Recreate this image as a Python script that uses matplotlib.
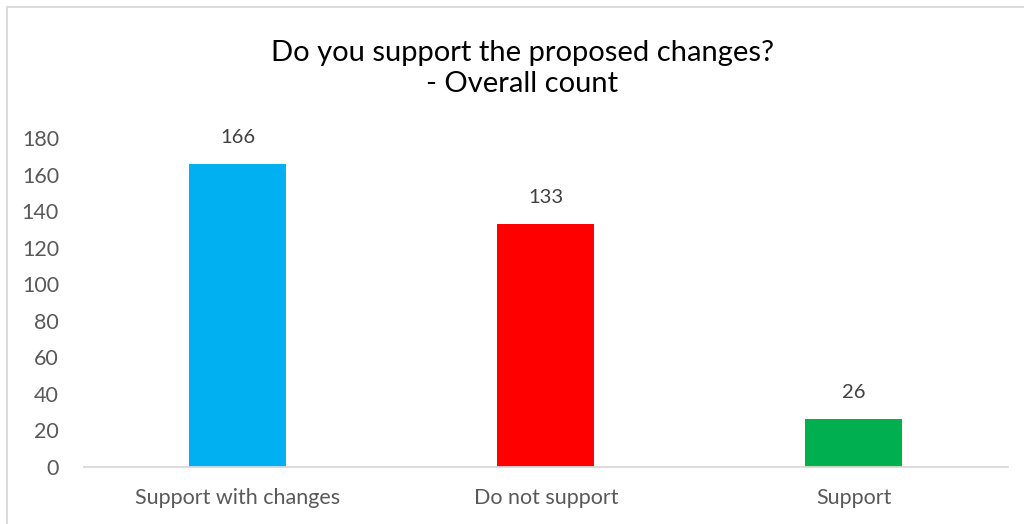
import matplotlib.pyplot as plt
from matplotlib.patches import Rectangle

categories = ['Support with changes', 'Do not support', 'Support']
counts = [166, 133, 26]
colors = ['#00B0F0', '#FF0000', '#00B050']
yticks = [0, 20, 40, 60, 80, 100, 120, 140, 160, 180]

plt.rcParams['font.family'] = ['Lato', 'DejaVu Sans']

fig = plt.figure(figsize=(10.24, 5.24), dpi=100)
ax = fig.add_axes([0.082, 0.1088, 0.902, 0.6278])

# chart border, clipped by the canvas on the right and bottom
fig.patches.append(Rectangle((7 / 1024, -0.1), 1.1, 1.1 - 7 / 524, transform=fig.transFigure,
                             fill=False, edgecolor='#D9D9D9', linewidth=1.3))

x = range(len(categories))
ax.bar(x, counts, width=0.315, color=colors)
for i, v in enumerate(counts):
    ax.annotate(str(v), (i, v), xytext=(0, 13), textcoords='offset points',
                ha='center', va='bottom', fontsize=14.5, color='#404040')

ax.set_xlim(-0.5, 2.5)
ax.set_ylim(0, 180)
ax.set_yticks(yticks)
ax.set_xticks(list(x))
ax.set_xticklabels(categories)
ax.tick_params(axis='both', length=0, labelsize=15.5, labelcolor='#595959')
ax.tick_params(axis='x', pad=15)
ax.tick_params(axis='y', pad=18)
for side in ['top', 'right', 'left']:
    ax.spines[side].set_visible(False)
ax.spines['bottom'].set_color('#D9D9D9')
ax.spines['bottom'].set_linewidth(1.3)

fig.text(0.51, 0.869, 'Do you support the proposed changes?\n- Overall count', ha='center', va='center',
         fontsize=21, color='black', linespacing=1.25)

fig.savefig('out.png', dpi=100)
